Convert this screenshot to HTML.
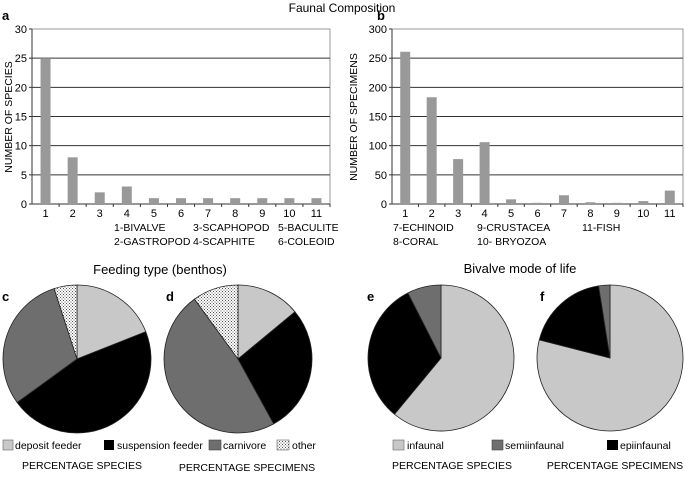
<!DOCTYPE html>
<html><head><meta charset="utf-8"><style>
body{margin:0;background:#fff;}
svg{display:block;font-family:"Liberation Sans",sans-serif;}
</style></head><body>
<svg id="s" width="685" height="490" viewBox="0 0 685 490">
<defs>
<pattern id="dots" width="3" height="3" patternUnits="userSpaceOnUse">
<rect width="3" height="3" fill="#fff"/><rect width="1" height="1" fill="#555"/><rect x="1.5" y="1.5" width="1" height="1" fill="#555"/>
</pattern>
</defs>
<text x="342" y="12" text-anchor="middle" font-size="12">Faunal Composition</text>
<text x="2" y="20" font-size="13" font-weight="bold">a</text>
<text x="377" y="20" font-size="13" font-weight="bold">b</text>
<text x="12" y="117" font-size="10.5" text-anchor="middle" transform="rotate(-90 12 117)">NUMBER OF SPECIES</text>
<text x="357" y="117" font-size="10.5" text-anchor="middle" transform="rotate(-90 357 117)">NUMBER OF SPECIMENS</text>
<g font-size="10.5">
<text x="114" y="231">1-BIVALVE</text><text x="114" y="245">2-GASTROPOD</text>
<text x="193" y="231">3-SCAPHOPOD</text><text x="193" y="245">4-SCAPHITE</text>
<text x="278" y="231">5-BACULITE</text><text x="278" y="245">6-COLEOID</text>
</g>
<g font-size="10.5">
<text x="393" y="231">7-ECHINOID</text><text x="393" y="245">8-CORAL</text>
<text x="477" y="231">9-CRUSTACEA</text><text x="477" y="245">10- BRYOZOA</text>
<text x="582" y="231">11-FISH</text>
</g>
<text x="160" y="274" text-anchor="middle" font-size="13">Feeding type (benthos)</text>
<text x="520" y="273" text-anchor="middle" font-size="13">Bivalve mode of life</text>
<text x="2" y="301" font-size="13" font-weight="bold">c</text>
<text x="166" y="301" font-size="13" font-weight="bold">d</text>
<text x="367" y="301" font-size="13" font-weight="bold">e</text>
<text x="540" y="301" font-size="13" font-weight="bold">f</text>
<g font-size="10.5">
<rect x="3" y="440" width="10" height="10" fill="#c8c8c8" stroke="#666" stroke-width="0.6"/><text x="15" y="449">deposit feeder</text>
<rect x="104" y="440" width="10" height="10" fill="#000"/><text x="117" y="449">suspension feeder</text>
<rect x="209" y="440" width="12" height="10" fill="#6e6e6e" stroke="#444" stroke-width="0.6"/><text x="223" y="449">carnivore</text>
<rect x="277" y="440" width="12" height="10" fill="url(#dots)" stroke="#666" stroke-width="0.6"/><text x="292" y="449">other</text>
</g>
<text x="82" y="469" text-anchor="middle" font-size="10.5">PERCENTAGE SPECIES</text>
<text x="247" y="471" text-anchor="middle" font-size="10.5">PERCENTAGE SPECIMENS</text>
<g font-size="10.5">
<rect x="393" y="440" width="11" height="10" fill="#c8c8c8" stroke="#666" stroke-width="0.6"/><text x="407" y="449">infaunal</text>
<rect x="492" y="440" width="11" height="10" fill="#6e6e6e" stroke="#444" stroke-width="0.6"/><text x="505" y="449">semiinfaunal</text>
<rect x="607" y="440" width="11" height="10" fill="#000"/><text x="620" y="449">epiinfaunal</text>
</g>
<text x="452" y="469" text-anchor="middle" font-size="10.5">PERCENTAGE SPECIES</text>
<text x="615" y="469" text-anchor="middle" font-size="10.5">PERCENTAGE SPECIMENS</text>
</svg>
<script>
const categories=["1","2","3","4","5","6","7","8","9","10","11"];
const speciesCounts=[25,8,2,3,1,1,1,1,1,1,1];
const specimenCounts=[261,183,77,106,8,2,15,3,2,5,23];
const speciesTicks=[0,5,10,15,20,25,30];
const specimenTicks=[0,50,100,150,200,250,300];
const feedingSpecies=[19,46,30,5];
const feedingSpecimens=[14,28,48,10];
const modeSpecies=[61,31.5,7.5];
const modeSpecimens=[79,18.5,2.5];
const feedingFills=["#c8c8c8","#000","#6e6e6e","url(#dots)"];
const feedingNames=["deposit-feeder","suspension-feeder","carnivore","other"];
const modeFills=["#c8c8c8","#000","#6e6e6e"];
const modeNames=["infaunal","epiinfaunal","semiinfaunal"];
const NS="http://www.w3.org/2000/svg";
const svg=document.getElementById('s');
function mk(tag,attrs,parent){const e=document.createElementNS(NS,tag);for(const k in attrs)e.setAttribute(k,attrs[k]);(parent||svg).appendChild(e);return e;}
function bar(id,x0,x1,y0,y1,ticks,vals){
  const g=mk('g',{});
  
  
  const max=ticks[ticks.length-1];
  const ys=v=>y0-(v/max)*(y0-y1);
  const bw=(x1-x0)/categories.length;
  const xs=i=>x0+bw*(i+0.5);
  mk('rect',{x:x0,y:y1,width:x1-x0,height:y0-y1,fill:'none',stroke:'#999','stroke-width':1},g);
  ticks.forEach((t,i)=>{
    const y=ys(t);
    if(i>0&&i<ticks.length-1){const l=mk('line',{x1:x0,x2:x1,y1:y,y2:y,stroke:'#333','stroke-width':1},g);
      
      }
    mk('line',{x1:x0-3,x2:x0,y1:y,y2:y,stroke:'#333'},g);
    const tx=mk('text',{x:x0-5,y:y+4,'text-anchor':'end','font-size':11},g);tx.textContent=t;
    
    
  });
  mk('line',{x1:x0,x2:x1,y1:y0,y2:y0,stroke:'#333'},g);
  mk('line',{x1:x0,x2:x0,y1:y1,y2:y0,stroke:'#333'},g);
  vals.forEach((v,i)=>{
    const r=mk('rect',{x:xs(i)-5,y:ys(v),width:10,height:y0-ys(v),fill:'#999'},g);
    
    
    mk('line',{x1:x0+bw*(i+1),x2:x0+bw*(i+1),y1:y0,y2:y0+3,stroke:'#333'},g);
    const tx=mk('text',{x:xs(i),y:y0+13,'text-anchor':'middle','font-size':11},g);tx.textContent=categories[i];
    
    
  });
}
bar('species',32,330,204,29,speciesTicks,speciesCounts);
bar('specimens',392,683,204,29,specimenTicks,specimenCounts);
function pie(id,cx,cy,r,vals,fills,names){
  const g=mk('g',{});
  
  
  const tot=vals.reduce((a,b)=>a+b,0);let a=0;
  vals.forEach((v,i)=>{
    const a0=a/tot*2*Math.PI;a+=v;const a1=a/tot*2*Math.PI;
    const p0=[cx+r*Math.sin(a0),cy-r*Math.cos(a0)],p1=[cx+r*Math.sin(a1),cy-r*Math.cos(a1)];
    const large=(a1-a0)>Math.PI?1:0;
    const p=mk('path',{d:`M${cx},${cy}L${p0[0]},${p0[1]}A${r},${r} 0 ${large} 1 ${p1[0]},${p1[1]}Z`,fill:fills[i],stroke:'#222','stroke-width':0.8},g);
    
    
  });
}
pie('pie-feeding-species',77,359,74,feedingSpecies,feedingFills,feedingNames);
pie('pie-feeding-specimens',238,359,74,feedingSpecimens,feedingFills,feedingNames);
pie('pie-mode-species',441,358,73,modeSpecies,modeFills,modeNames);
pie('pie-mode-specimens',610,358,73,modeSpecimens,modeFills,modeNames);
</script>
</body></html>
